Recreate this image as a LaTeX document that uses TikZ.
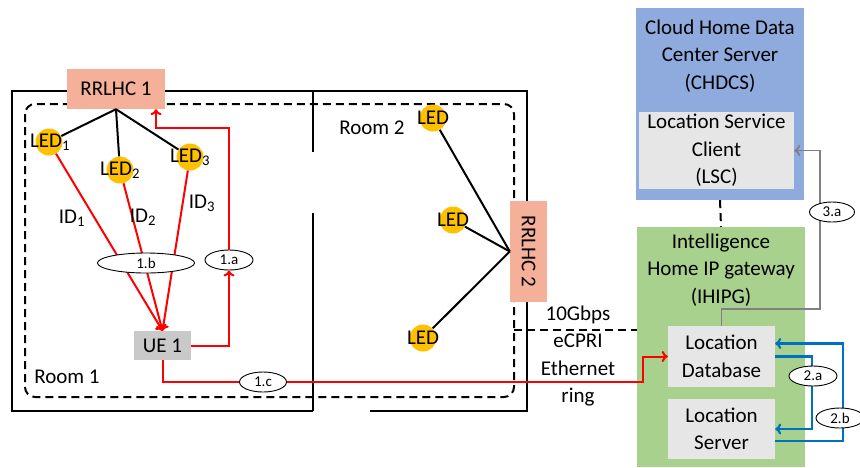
\documentclass[tikz,border=0pt]{standalone}
\usepackage{fontspec}
\setmainfont{Carlito}
\usetikzlibrary{shapes.geometric,arrows.meta}
\definecolor{rrlhc}{RGB}{244,176,152}
\definecolor{ledyel}{RGB}{255,192,0}
\definecolor{cloudblue}{RGB}{143,170,220}
\definecolor{gwgreen}{RGB}{169,209,142}
\definecolor{boxgray}{RGB}{231,230,230}
\definecolor{uegray}{RGB}{201,201,201}
\definecolor{linkblue}{RGB}{0,112,192}
\definecolor{linkgray}{RGB}{128,128,128}
\tikzset{
  lbl/.style={inner sep=0pt, align=center, font=\fontsize{21}{27.5}\selectfont},
  box/.style={rectangle, inner sep=0pt, align=center, font=\fontsize{21}{27.5}\selectfont},
  led/.style={circle, fill=ledyel, minimum size=27pt, inner sep=0pt},
  tag/.style={ellipse, draw, line width=0.9pt, fill=white, inner sep=0pt, minimum width=48pt, minimum height=20pt, font=\fontsize{15}{15}\selectfont},
  wall/.style={line width=2pt},
  dashwall/.style={line width=2pt, dash pattern=on 8pt off 5pt},
  rlink/.style={line width=2pt, red},
  blink/.style={line width=2.2pt, linkblue},
  glink/.style={line width=1.6pt, linkgray},
}
\begin{document}
\begin{tikzpicture}[x=1pt, y=-1pt, >={To[length=6pt,width=11pt]}]
\useasboundingbox (0,0) rectangle (860,467);
%%% walls of room 1 and room 2
\draw[wall] (313,411) -- (12,411) -- (12,91) -- (527,91) -- (527,411) -- (370,411);
\draw[wall] (313,91) -- (313,152);
\draw[wall] (313,213) -- (313,411);
\draw[dashwall, rounded corners=10pt] (25,104) rectangle (514,397);
\node[lbl] (room1) at (67,377) {Room 1};
\node[lbl] (room2) at (372,128) {Room 2};
%%% RRLHC boxes
\node[box, fill=rrlhc, minimum width=98pt, minimum height=40pt] (rr1) at (116,89) {RRLHC 1};
\node[box, fill=rrlhc, minimum width=37pt, minimum height=101pt] (rr2) at (528.5,251.5) {};
\node[lbl, rotate=-90] (rr2t) at (rr2) {RRLHC 2};
%%% LEDs in room 1
\node[led] (led1) at (49,142) {};
\node[led] (led2) at (120,170) {};
\node[led] (led3) at (190,157) {};
\node[lbl] (led1t) at (50,142) {LED\textsubscript{1}};
\node[lbl] (led2t) at (120,170) {LED\textsubscript{2}};
\node[lbl] (led3t) at (190,157) {LED\textsubscript{3}};
%%% LEDs in room 2
\node[led] (ledA) at (433,118) {};
\node[led] (ledB) at (453,220) {};
\node[led] (ledC) at (423,338) {};
\node[lbl] (ledAt) at (433,118) {LED};
\node[lbl] (ledBt) at (453,220) {LED};
\node[lbl] (ledCt) at (423,338) {LED};
\draw[wall] (rr1.south) -- (led1);
\draw[wall] (rr1.south) -- (led2);
\draw[wall] (rr1.south) -- (led3);
\draw[wall] (rr2.west) -- (ledA);
\draw[wall] (rr2.west) -- (ledB);
\draw[wall] (rr2.west) -- (ledC);
%%% UE 1
\node[box, fill=uegray, minimum width=57pt, minimum height=29pt] (ue) at (162.5,345.5) {UE 1};
\node[tag] (a1) at (229,260) {1.a};
\node[tag, minimum width=47pt] (c1) at (263,382) {1.c};
\draw[rlink,->] (led1) -- (ue.north);
\draw[rlink,->] (led2) -- (ue.north);
\draw[rlink,->] (led3) -- (ue.north);
\node[tag, minimum width=97pt] (b1) at (146,263) {1.b};
\node[lbl] (id1) at (72,218) {ID\textsubscript{1}};
\node[lbl] (id2) at (143,217) {ID\textsubscript{2}};
\node[lbl] (id3) at (202,203) {ID\textsubscript{3}};
\coordinate (up1) at (156,128);
\draw[rlink,->] (ue.east) -| (a1.south);
\draw[rlink,->] (a1.north) |- (up1) -- (up1 |- rr1.south);
%%% cloud server and gateway
\node[box, fill=cloudblue, minimum width=168pt, minimum height=192pt] (cloud) at (720,104) {};
\node[lbl] (cloudt) at (720,56) {Cloud Home Data\\Center Server\\(CHDCS)};
\node[box, fill=boxgray, minimum width=155pt, minimum height=77pt] (lsc) at (716.5,150.5) {Location Service\\Client\\(LSC)};
\node[box, fill=gwgreen, minimum width=168pt, minimum height=240pt] (gw) at (721,347) {};
\node[lbl] (gwt) at (721,270) {Intelligence\\Home IP gateway\\(IHIPG)};
\node[box, fill=boxgray, minimum width=107pt, minimum height=61pt] (db) at (721.5,356.5) {Location\\Database};
\node[box, fill=boxgray, minimum width=107pt, minimum height=60pt] (ls) at (721.5,429) {Location\\Server};
\draw[dashwall] (cloud.south) -- (gw.north);
%%% ring to the gateway
\coordinate (cpri) at (514,330);
\draw[dashwall] (cpri) -- (cpri -| gw.west);
\node[lbl] (ring) at (578,356) {10Gbps\\eCPRI\\Ethernet\\ring};
\coordinate (ring1) at (643,382);
\draw[rlink] (ue.south) |- (c1.west);
\draw[rlink,->] (c1.east) -- (ring1) |- (db.west);
%%% links inside the gateway
\coordinate (g1) at (820,309);
\draw[glink,->] (db.north) |- (g1) |- (lsc.east);
\coordinate (bl1) at (812,356.5);
\coordinate (bl2) at (843,441);
\draw[blink,->] (db.east) -- (bl1) |- (ls.east);
\draw[blink,->] (bl2 -| ls.east) -- (bl2) |- ([yshift=13pt]db.east);
\node[tag] (t2a) at (813,376) {2.a};
\node[tag] (t2b) at (840,418) {2.b};
\node[tag, minimum width=45pt] (t3a) at (832,212) {3.a};
\end{tikzpicture}
\end{document}
